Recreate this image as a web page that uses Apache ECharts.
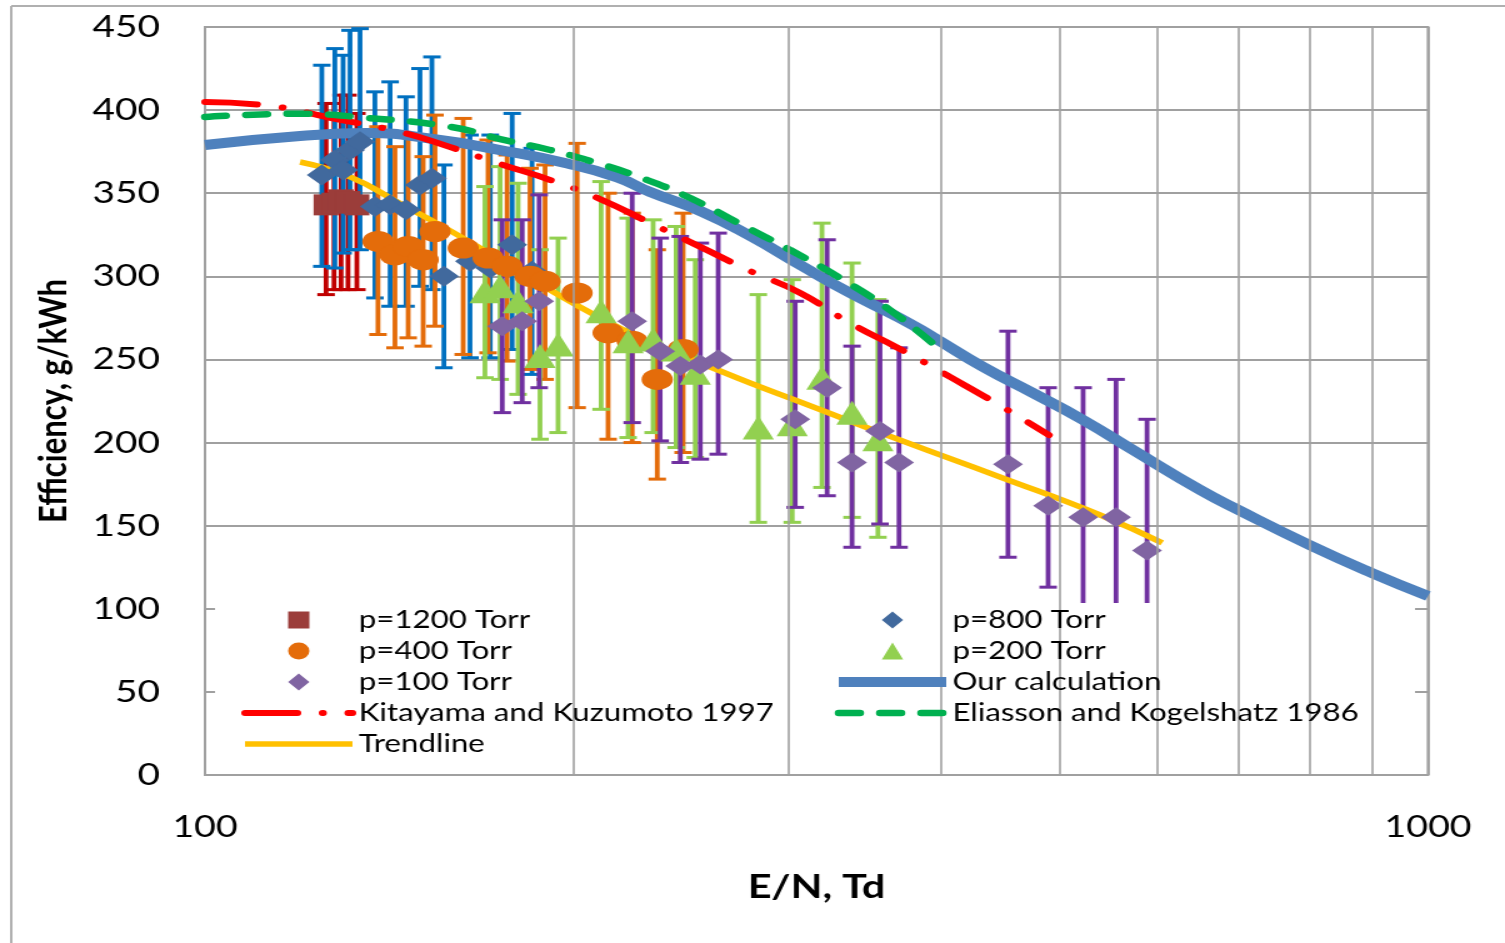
<!DOCTYPE html>
<html>
<head>
<meta charset="utf-8">
<script src="https://cdn.jsdelivr.net/npm/echarts@6/dist/echarts.min.js"></script>
<style>
html,body{margin:0;padding:0;background:#fff;overflow:hidden;}
#c{width:1204px;height:943px;transform:scaleX(1.25);transform-origin:0 0;}
</style>
</head>
<body>
<div id="c"></div>
<script>
// [E/N (Td), efficiency, error low, error high]
const p1200 = [
  [125.6, 343, 289, 404], [127.5, 344, 292, 404], [129.2, 346, 292, 409],
  [130.9, 345, 292, 409], [133.1, 343, 292, 398]
];
const p800 = [
  [124.6, 361, 306, 427], [127.7, 370, 305, 437], [129.7, 364, 314, 433],
  [131.4, 376, 316, 448], [133.9, 381, 316, 449], [137.7, 342, 287, 411],
  [141.7, 343, 282, 417], [146.0, 340, 282, 408], [149.9, 355, 294, 425],
  [153.3, 359, 292, 432], [156.8, 300, 245, 367], [164.7, 309, 251, 385],
  [171.1, 305, 251, 385], [178.3, 319, 256, 398], [185.1, 303, 241, 377]
];
const p400 = [
  [138.5, 321, 265, 390], [143.0, 313, 257, 378], [146.6, 318, 263, 385],
  [150.8, 310, 258, 372], [154.2, 327, 270, 397], [162.6, 317, 253, 395],
  [170.4, 311, 254, 382], [176.6, 306, 249, 373], [184.4, 300, 244, 365],
  [189.7, 297, 238, 367], [201.5, 290, 221, 380], [213.6, 266, 202, 350],
  [223.5, 261, 200, 338], [234.3, 238, 178, 316], [246.0, 256, 194, 338]
];
const p200 = [
  [169.4, 291, 239, 354], [174.3, 294, 238, 366], [180.3, 285, 229, 356],
  [187.9, 252, 202, 316], [194.4, 259, 206, 323], [210.8, 279, 220, 357],
  [221.8, 261, 203, 335], [232.5, 262, 206, 334], [242.8, 256, 197, 330],
  [251.7, 242, 191, 310], [283.4, 209, 152, 289], [302.1, 211, 152, 298],
  [319.5, 239, 173, 332], [338.1, 218, 155, 308], [355.0, 202, 143, 286]
];
const p100 = [
  [175.0, 270, 218, 334], [181.7, 273, 224, 334], [187.6, 285, 233, 349],
  [223.5, 273, 212, 350], [235.6, 255, 201, 323], [244.7, 246, 188, 324],
  [254.1, 247, 190, 320], [262.8, 250, 193, 326], [303.8, 214, 161, 285],
  [322.6, 233, 168, 322], [338.1, 188, 137, 258], [356.4, 207, 151, 285],
  [369.4, 188, 137, 257], [453.5, 187, 131, 267], [489.1, 162, 113, 233],
  [522.4, 155, 78, 233], [555.8, 155, 73, 238], [589.2, 135, 55, 214]
];
const calcX = [100, 119.6, 135.6, 153.6, 174.3, 197.8, 217.3, 231.2, 254.1, 279.1, 306.7, 336.8, 370, 393.8, 432.7, 475.3, 522.4, 573.9, 651.1, 700, 800, 900, 1000];
const calcY = [379, 384.4, 386.2, 382.6, 376, 367.9, 359.5, 350.7, 339.3, 324.3, 306.8, 290, 274.9, 263.5, 245.5, 229.8, 213.6, 195.5, 171.5, 159.4, 138.4, 121.5, 107.7];
const kitX = [100, 113.0, 126.5, 144.4, 158.6, 174.3, 191.5, 210.4, 231.2, 254.1, 279.1, 306.7, 336.8, 370, 406.6, 446.7, 489.9];
const kitY = [404.9, 402.6, 395.4, 386.8, 377.8, 367.6, 358, 346.5, 332.1, 317.7, 303.2, 290, 271.9, 256.3, 239.5, 222.3, 204.5];
const eliX = [100, 119.6, 135.2, 158.6, 174.3, 191.5, 206.5, 226.9, 249.3, 273.8, 301, 330.5, 363.2, 396.8];
const eliY = [395.9, 397.8, 395.4, 390, 382.6, 376, 369.4, 359.5, 347.1, 331.5, 315.8, 299, 279.7, 257.5];
const trendX = [119.6, 131.4, 144.4, 158.6, 174.3, 191.5, 210.4, 231.2, 254.1, 279.1, 306.7, 370, 446.7, 539.4, 606.3];
const trendY = [368.8, 359.8, 343.8, 327.5, 309.8, 291.8, 275, 260, 247.9, 235.8, 224.4, 201.5, 179.3, 156.4, 139.6];
const gridX = [200, 300, 400, 500, 600, 700, 800, 900];
const legendLeft = ['p=1200 Torr', 'p=400 Torr', 'p=100 Torr', 'Kitayama and Kuzumoto 1997', 'Trendline'];
const legendRight = ['p=800 Torr', 'p=200 Torr', 'Our calculation', 'Eliasson and Kogelshatz 1986'];

const FONT = 'Lato';
const zip = (a, b) => a.map((v, i) => [v, b[i]]);

const SQUARE = 'path://M0,0 H100 V100 H0 Z';
const DIAMOND = 'path://M50,0 L100,50 L50,100 L0,50 Z';
const TRIANGLE = 'path://M50,0 L100,100 L0,100 Z';
const ELLIPSE = 'path://M0,50 A50,50 0 1,1 100,50 A50,50 0 1,1 0,50 Z';

const lineStyles = {
  'Our calculation': { color: '#4F81BD', width: 10 },
  'Kitayama and Kuzumoto 1997': { color: '#FF0000', width: 6, type: [42, 20, 0.5, 20], cap: 'round' },
  'Eliasson and Kogelshatz 1986': { color: '#00B050', width: 6.5, type: [17, 16], cap: 'round' },
  'Trendline': { color: '#FFC000', width: 5.5 }
};

function errSeries(id, data, color) {
  return {
    type: 'custom', name: id + ' err', z: 2, silent: true, clip: true,
    data: data.map(d => [d[0], d[2], d[3]]),
    encode: { x: 0, y: [1, 2] },
    renderItem: function (params, api) {
      const x = api.value(0);
      const lo = api.coord([x, api.value(1)]);
      const hi = api.coord([x, api.value(2)]);
      const hw = 7;
      return {
        type: 'group',
        children: [
          { type: 'line', shape: { x1: lo[0], y1: lo[1], x2: hi[0], y2: hi[1] }, style: { stroke: color, lineWidth: 3.8 } },
          { type: 'line', shape: { x1: lo[0] - hw, y1: lo[1], x2: lo[0] + hw, y2: lo[1] }, style: { stroke: color, lineWidth: 3 } },
          { type: 'line', shape: { x1: hi[0] - hw, y1: hi[1], x2: hi[0] + hw, y2: hi[1] }, style: { stroke: color, lineWidth: 3 } }
        ]
      };
    }
  };
}
function markerSeries(name, data, symbol, size, color) {
  return {
    type: 'scatter', name: name, z: 4, silent: true,
    data: data.map(d => [d[0], d[1]]),
    symbol: symbol, symbolSize: size, symbolKeepAspect: false,
    itemStyle: { color: color, opacity: 1 }
  };
}
function lineSeries(name, xs, ys) {
  const ls = lineStyles[name];
  return {
    type: 'line', name: name, z: 3, silent: true, data: zip(xs, ys),
    symbol: 'none', smooth: true, lineStyle: ls, itemStyle: { color: ls.color }
  };
}
function legendItems(names) {
  return names.map(n => {
    if (lineStyles[n]) {
      const ls = lineStyles[n];
      return { name: n, lineStyle: { width: ls.width, type: ls.type || 'solid', cap: ls.cap || 'butt', color: ls.color }, itemStyle: { opacity: 0 } };
    }
    return { name: n };
  });
}
const legendBase = {
  orient: 'vertical', top: 606, padding: 0,
  itemWidth: 86, itemHeight: 17, itemGap: 3, z: 10, selectedMode: false,
  textStyle: { fontFamily: FONT, fontSize: 25, color: '#000', lineHeight: 28 }
};

const chart = echarts.init(document.getElementById('c'), null, { renderer: 'canvas' });
chart.setOption({
  animation: false,
  backgroundColor: '#fff',
  textStyle: { fontFamily: FONT },
  grid: { left: 164, right: 61.6, top: 27, bottom: 168, show: true, borderColor: '#a0a0a0', borderWidth: 2, backgroundColor: 'transparent' },
  xAxis: {
    type: 'log', logBase: 10, min: 100, max: 1000,
    name: 'E/N, Td', nameLocation: 'middle', nameGap: 96,
    nameTextStyle: { fontFamily: FONT, fontWeight: 'bold', fontSize: 33, color: '#000' },
    axisLine: { show: false }, axisTick: { show: false },
    axisLabel: { fontFamily: FONT, fontSize: 30, color: '#000', margin: 37, formatter: v => String(Math.round(v)) },
    splitLine: { show: true, lineStyle: { color: '#a0a0a0', width: 1.6 } }
  },
  yAxis: {
    type: 'value', min: 0, max: 450, interval: 50,
    name: 'Efficiency, g/kWh', nameLocation: 'middle', nameGap: 106, nameRotate: 90,
    nameTextStyle: { fontFamily: FONT, fontWeight: 'bold', fontSize: 31, color: '#000' },
    axisLine: { show: false }, axisTick: { show: false },
    axisLabel: { fontFamily: FONT, fontSize: 31, color: '#000', margin: 36 },
    splitLine: { show: true, lineStyle: { color: '#a0a0a0', width: 2 } }
  },
  legend: [
    Object.assign({}, legendBase, { left: 193, data: legendItems(legendLeft) }),
    Object.assign({}, legendBase, { left: 666, data: legendItems(legendRight) })
  ],
  graphic: [
    { type: 'rect', z: 5, silent: true, shape: { x: 172, y: 603, width: 960, height: 157 }, style: { fill: '#fff' } },
    { type: 'line', z: 5, silent: true, shape: { x1: 9, y1: 6, x2: 9, y2: 943 }, style: { stroke: '#b0b0b0', lineWidth: 2 } },
    { type: 'line', z: 5, silent: true, shape: { x1: 9, y1: 6, x2: 1204, y2: 6 }, style: { stroke: '#b0b0b0', lineWidth: 2 } }
  ],
  series: [
    {
      type: 'line', name: '_grid', data: [], z: 1, silent: true,
      markLine: {
        silent: true, symbol: ['none', 'none'], label: { show: false },
        lineStyle: { color: '#a0a0a0', width: 1.6, type: 'solid' },
        data: gridX.map(v => ({ xAxis: v }))
      }
    },
    errSeries('p=1200', p1200, '#C00000'),
    errSeries('p=800', p800, '#0070C0'),
    errSeries('p=400', p400, '#E46C0A'),
    errSeries('p=200', p200, '#92D050'),
    errSeries('p=100', p100, '#7030A0'),
    lineSeries('Our calculation', calcX, calcY),
    lineSeries('Kitayama and Kuzumoto 1997', kitX, kitY),
    lineSeries('Eliasson and Kogelshatz 1986', eliX, eliY),
    lineSeries('Trendline', trendX, trendY),
    markerSeries('p=1200 Torr', p1200, SQUARE, [20, 21], '#9B3D3A'),
    markerSeries('p=800 Torr', p800, DIAMOND, [24, 21], '#41699D'),
    markerSeries('p=400 Torr', p400, ELLIPSE, [25, 21], '#E46C0A'),
    markerSeries('p=200 Torr', p200, TRIANGLE, [25, 24], '#92D050'),
    markerSeries('p=100 Torr', p100, DIAMOND, [24, 20], '#8064A2')
  ]
});
</script>
</body>
</html>
